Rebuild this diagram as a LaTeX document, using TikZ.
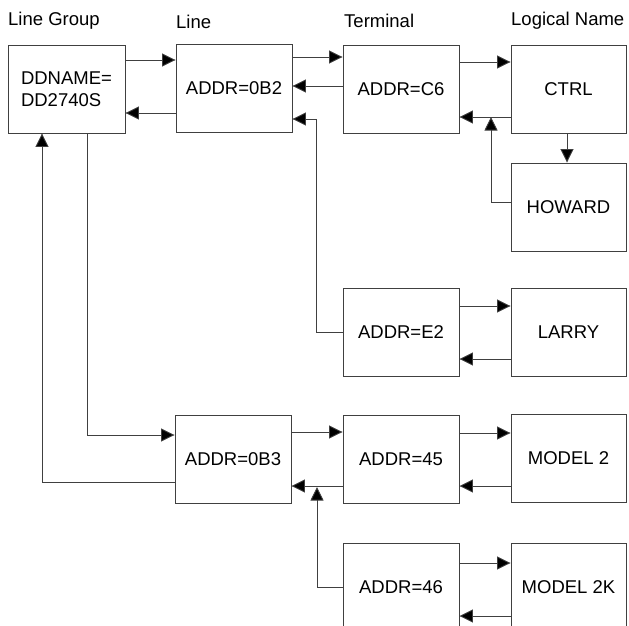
\documentclass[tikz,border=0pt]{standalone}
\usepackage{fontspec}
\setmainfont{Liberation Sans}
\usetikzlibrary{arrows.meta}
\begin{document}
\begin{tikzpicture}[x=1pt,y=-1pt,
  every node/.style={font=\fontsize{18.5}{22}\selectfont},
  box/.style={draw=black!75,line width=0.9pt,minimum width=116pt,minimum height=88pt,inner sep=0pt},
  lbl/.style={anchor=base west,inner sep=0pt},
  arr/.style={draw=black!75,line width=0.9pt,-{Triangle[length=13.5pt,width=13pt,fill=black]}},
  ln/.style={draw=black!75,line width=0.9pt}]
\useasboundingbox (0,0) rectangle (629,626);
\clip (0,0) rectangle (629,626);
% column labels
\node[lbl] (hlg) at (8,26) {Line Group};
\node[lbl] (hl) at (176,29) {Line};
\node[lbl] (ht) at (344,28) {Terminal};
\node[lbl] (hn) at (511,26) {Logical Name};
% boxes
\node[box,minimum width=117pt,align=left] (lg) at (66.5,89) {DDNAME=\\DD2740S};
\node[box] (l1) at (234,88) {ADDR=0B2};
\node[box] (t1) at (401,89.5) {ADDR=C6};
\node[box,minimum width=115pt] (ctrl) at (568.5,89) {CTRL};
\node[box,minimum width=115pt] (how) at (568.5,207) {HOWARD};
\node[box] (e2) at (401,332.5) {ADDR=E2};
\node[box,minimum width=115pt] (larry) at (568.5,332) {LARRY};
\node[box] (l2) at (233,459) {ADDR=0B3};
\node[box] (t45) at (401,459) {ADDR=45};
\node[box,minimum width=115pt] (m2) at (568.5,458) {MODEL 2};
\node[box] (t46) at (401,587) {ADDR=46};
\node[box,minimum width=115pt] (m2k) at (568.5,587) {MODEL 2K};
% connectors
\draw[arr] (lg.east |- 0,60) -- (l1.west |- 0,60);
\draw[arr] (l1.west |- 0,113) -- (lg.east |- 0,113);
\draw[arr] (l1.east |- 0,57) -- (t1.west |- 0,57);
\draw[arr] (t1.west |- 0,86) -- (l1.east |- 0,86);
\draw[arr] (e2.west) -- ++(-26,0) |- (l1.east |- 0,119);
\draw[arr] (t1.east |- 0,62) -- (ctrl.west |- 0,62);
\draw[arr] (ctrl.west |- 0,117) -- (t1.east |- 0,117);
\draw[arr] (ctrl.south -| 567,0) -- (how.north -| 567,0);
\draw[arr] (how.west |- 0,202) -| (491,117);
\draw[arr] (e2.east |- 0,306) -- (larry.west |- 0,306);
\draw[arr] (larry.west |- 0,359) -- (e2.east |- 0,359);
\draw[arr] (lg.south -| 87,0) |- (l2.west |- 0,435);
\draw[arr] (l2.west |- 0,482) -| (lg.south -| 42,0);
\draw[arr] (l2.east |- 0,432) -- (t45.west |- 0,432);
\draw[arr] (t45.west |- 0,486) -- (l2.east |- 0,486);
\draw[arr] (t45.east |- 0,433) -- (m2.west |- 0,433);
\draw[arr] (m2.west |- 0,486) -- (t45.east |- 0,486);
\draw[arr] (t46.west) -| (317,487);
\draw[arr] (t46.east |- 0,563) -- (m2k.west |- 0,563);
\draw[arr] (m2k.west |- 0,616) -- (t46.east |- 0,616);
\end{tikzpicture}
\end{document}
